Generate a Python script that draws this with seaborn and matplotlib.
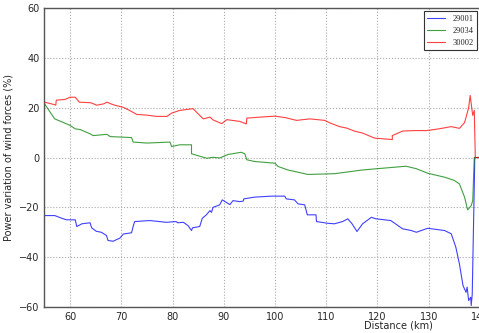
import matplotlib
matplotlib.use("Agg")
import matplotlib.pyplot as plt
import seaborn as sns
import pandas as pd

# series (distance in km, power variation in %)
dist_29001 = [55, 57, 58.4, 59.3, 61, 61.3, 62.3, 63.9, 64.2, 65.1, 66.1, 67.1, 67.4, 68.4,
              69.1, 69.7, 70.4, 72, 72.3, 72.6, 75.6, 78.8, 80.7, 81, 82.1, 83, 83.7, 83.9,
              85.3, 85.8, 86.6, 87.3, 87.6, 87.9, 89.2, 89.7, 91.2, 91.8, 93.1, 93.8, 93.9,
              96, 99.3, 101.9, 102.2, 103.8, 104.5, 105.8, 106.3, 108, 108.1, 110.3, 111.6,
              113.2, 114.2, 115, 116, 117.1, 118.8, 119.7, 122.6, 124.9, 126.6, 127.6, 129.8,
              133.1, 134.4, 135.3, 136, 136.7, 137.3, 137.5, 137.8, 138.2, 138.3, 138.5, 139.0, 140]
var_29001 = [-23.3, -23.3, -24.4, -25.0, -25.0, -27.7, -26.6, -26.2, -28.2, -29.6, -30.0, -31.3,
             -33.3, -33.6, -32.9, -32.4, -30.7, -30.2, -27.7, -25.7, -25.3, -26.0, -25.7, -26.2,
             -26.0, -27.3, -29.3, -28.2, -27.7, -24.4, -23.0, -21.3, -22.0, -20.0, -19.0, -17.0,
             -18.9, -17.3, -17.7, -17.5, -16.6, -15.9, -15.5, -15.5, -16.6, -17.0, -18.6, -19.0,
             -23.0, -23.0, -25.7, -26.4, -26.6, -25.7, -24.6, -26.5, -29.7, -26.6, -24.0, -24.6,
             -25.3, -28.6, -29.3, -30.0, -28.4, -29.3, -30.6, -36.0, -42.7, -51.4, -54.1, -52.0,
             -57.4, -56.1, -59.4, -55.0, 0, 0]

dist_29034 = [55, 56, 57, 58.5, 60, 61, 62, 63.9, 64.5, 67.2, 67.8, 72, 72.3, 75, 79.5, 79.8,
              81.4, 83.7, 83.7, 85.5, 86.7, 87.9, 89.2, 90.8, 93.4, 94.1, 94.5, 96, 100, 100.6,
              102.5, 104.5, 106.4, 111.6, 117.1, 121, 125.6, 127.6, 129.8, 133.1, 135, 136, 137,
              137.6, 138.3, 138.6, 138.9, 140]
var_29034 = [21.6, 18.5, 15.5, 14.2, 12.9, 11.5, 11.2, 9.5, 8.8, 9.3, 8.4, 8.0, 6.2, 5.8, 6.2,
             4.4, 5.1, 5.1, 1.5, 0.4, -0.3, 0.1, -0.2, 1.2, 2.1, 1.5, -0.9, -1.6, -2.3, -3.6,
             -5.0, -5.9, -6.8, -6.5, -5.0, -4.3, -3.5, -4.5, -6.3, -7.9, -9.2, -10.6, -15.9,
             -21.0, -19.3, -17.3, 0, 0]

dist_30002 = [55, 57, 57.2, 57.3, 59, 60, 61, 61.8, 64, 65.2, 66.5, 67.2, 68, 68.7, 70.3, 71.5,
              73, 75, 76.9, 78.9, 79.8, 81.4, 84, 85.3, 86, 87.3, 87.9, 89.6, 90.6, 92, 93.1,
              94.4, 94.5, 97, 100, 102, 104.2, 106.8, 109.7, 110.7, 112.6, 114, 115.5, 117.1,
              119.4, 122.9, 122.9, 124.9, 127, 129.6, 132, 134.4, 136, 137, 137.3, 137.8, 138.1,
              138.4, 138.6, 138.9, 139.1, 140]
var_30002 = [22.2, 21.2, 21.0, 23.0, 23.3, 24.2, 24.2, 22.2, 22.0, 21.0, 21.5, 22.2, 21.5, 21.0,
             20.2, 19.0, 17.3, 17.0, 16.5, 16.5, 17.8, 18.9, 19.6, 16.9, 15.5, 16.2, 15.1, 13.6,
             15.2, 14.8, 14.5, 13.5, 15.8, 16.2, 16.6, 16.0, 14.9, 15.5, 14.9, 13.9, 12.4, 11.8,
             10.6, 9.8, 7.8, 7.2, 8.8, 10.6, 10.8, 10.8, 11.5, 12.4, 11.7, 14.0, 16.2, 20.0,
             24.9, 20.0, 16.9, 18.9, 0, 0]

series_names = ["29001", "29034", "30002"]
series_colors = ["#0000ff", "#008000", "#ff0000"]

frames = []
for name, d, v in zip(series_names,
                      [dist_29001, dist_29034, dist_30002],
                      [var_29001, var_29034, var_30002]):
    frames.append(pd.DataFrame({"distance": d, "variation": v, "series": name}))
df = pd.concat(frames, ignore_index=True)

sns.set_style("whitegrid", {"grid.linestyle": ":", "grid.color": "#aaaaaa",
                            "axes.edgecolor": "#555555"})
plt.rcParams["font.family"] = ["DejaVu Sans"]

fig = plt.figure(figsize=(4.79, 3.33), dpi=100)
ax = fig.add_axes([0.0929, 0.078, 0.909, 0.898])

sns.lineplot(data=df, x="distance", y="variation", hue="series",
             palette=dict(zip(series_names, series_colors)),
             estimator=None, sort=False, linewidth=0.8, alpha=0.75, ax=ax)

ax.set_xlim(55, 140)
ax.set_ylim(-60, 60)
ax.set_xticks(range(60, 141, 10))
ax.set_yticks(range(-60, 61, 20))
ax.tick_params(labelsize=7, direction="in", length=3, color="#555555")
for s in ax.spines.values():
    s.set_linewidth(1.0)

ax.set_xlabel("Distance (km)", fontsize=7)
ax.xaxis.set_label_coords(0.812, -0.045)
ax.set_ylabel("Power variation of wind forces (%)", fontsize=7)

handles, labels = ax.get_legend_handles_labels()
leg = ax.legend(handles, labels, loc="upper right", fancybox=False, framealpha=1,
                edgecolor="#333333", borderaxespad=0.4, handlelength=2.2,
                prop={"family": "Liberation Serif", "size": 6})
leg.get_frame().set_linewidth(0.8)

fig.savefig("out.png", dpi=100)
